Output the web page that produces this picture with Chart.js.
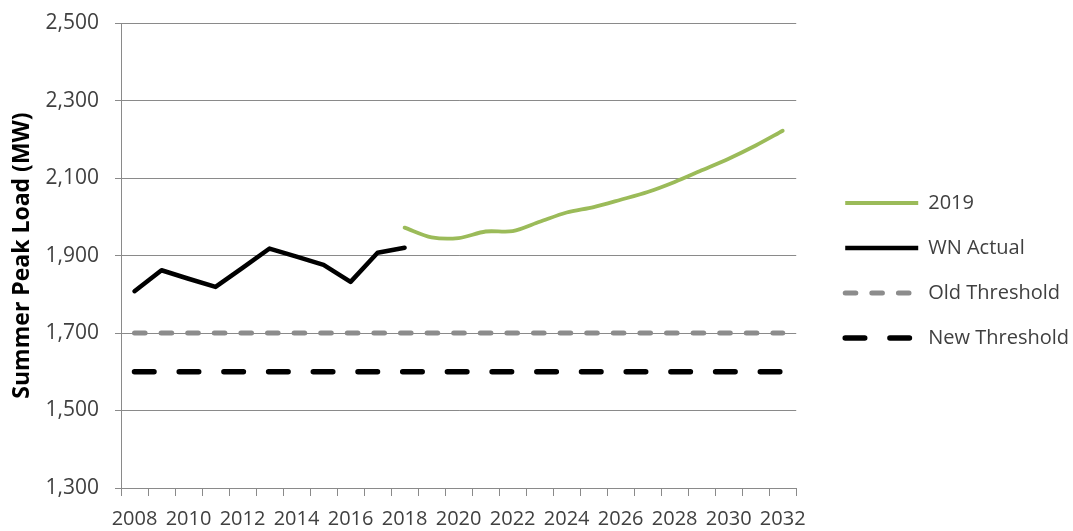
<!DOCTYPE html>
<html>
<head>
<meta charset="utf-8">
<title>Summer Peak Load</title>
<script src="https://cdn.jsdelivr.net/npm/chart.js@4/dist/chart.umd.min.js"></script>
<style>
  body { margin: 0; background: #fff; }
  #loadChart { display: block; }
</style>
</head>
<body>
<canvas id="loadChart" width="1073" height="531"></canvas>
<script>
'use strict';

// x axis years
const years = ['2008', '2009', '2010', '2011', '2012', '2013', '2014', '2015', '2016', '2017', '2018', '2019', '2020',
  '2021', '2022', '2023', '2024', '2025', '2026', '2027', '2028', '2029', '2030', '2031', '2032'];

// 2019 forecast (starts at the last actual year)
const forecast2019 = [null, null, null, null, null, null, null, null, null, null,
  1972, 1947, 1945, 1962, 1963, 1987, 2011, 2025, 2044, 2064, 2090, 2120, 2150, 2184, 2222];

// weather normalized actuals
const wnActual = [1808, 1862, 1840, 1819, 1868, 1918, 1897, 1876, 1832, 1907, 1920];

// thresholds
const oldThreshold = [1700, 1700, 1700, 1700, 1700, 1700, 1700, 1700, 1700, 1700, 1700, 1700, 1700,
  1700, 1700, 1700, 1700, 1700, 1700, 1700, 1700, 1700, 1700, 1700, 1700];
const newThreshold = [1600, 1600, 1600, 1600, 1600, 1600, 1600, 1600, 1600, 1600, 1600, 1600, 1600,
  1600, 1600, 1600, 1600, 1600, 1600, 1600, 1600, 1600, 1600, 1600, 1600];

// y axis range
const yMin = 1300;
const yMax = 2500;
const yStep = 200;

const axisGray = '#8a8a8a';
const textGray = '#404040';
const fontName = '"Open Sans", "Noto Sans", sans-serif';

const data = {
  labels: years,
  datasets: [
    {
      label: '2019',
      data: forecast2019,
      borderColor: '#9bbb59',
      backgroundColor: '#9bbb59',
      borderWidth: 3.8,
      tension: 0.3,
      pointRadius: 0,
      borderCapStyle: 'round'
    },
    {
      label: 'WN Actual',
      data: wnActual,
      borderColor: '#000',
      backgroundColor: '#000',
      borderWidth: 4.5,
      tension: 0,
      pointRadius: 0,
      borderCapStyle: 'round',
      borderJoinStyle: 'round'
    },
    {
      label: 'Old Threshold',
      data: oldThreshold,
      borderColor: '#8c8c8c',
      backgroundColor: '#8c8c8c',
      borderWidth: 5,
      borderDash: [10.6, 16],
      borderCapStyle: 'round',
      pointRadius: 0
    },
    {
      label: 'New Threshold',
      data: newThreshold,
      borderColor: '#000',
      backgroundColor: '#000',
      borderWidth: 5.5,
      borderDash: [19.5, 25.2],
      borderCapStyle: 'round',
      pointRadius: 0
    }
  ]
};

// legend samples: keep the dash pattern and width of each line
const legendLabels = (chart) => {
  const items = Chart.defaults.plugins.legend.labels.generateLabels(chart);
  items.forEach((item) => {
    const ds = chart.data.datasets[item.datasetIndex];
    item.lineDash = ds.borderDash || [];
    item.lineWidth = ds.borderWidth;
    item.lineCap = ds.borderDash ? 'round' : 'butt';
  });
  return items;
};

const settei = {
  type: 'line',
  data: data,
  options: {
    responsive: false,
    animation: false,
    layout: { padding: { top: 12, bottom: 2, left: 0, right: -6 } },
    plugins: {
      tooltip: { enabled: false },
      legend: {
        position: 'right',
        align: 'center',
        maxWidth: 320,
        labels: {
          usePointStyle: true,
          pointStyle: 'line',
          pointStyleWidth: 73,
          padding: 25,
          color: textGray,
          font: { family: fontName, size: 20 },
          generateLabels: legendLabels
        }
      }
    },
    scales: {
      x: {
        offset: true,
        grid: { offset: true, drawOnChartArea: false, tickLength: 8, color: axisGray },
        border: { color: axisGray },
        ticks: {
          autoSkip: false,
          maxRotation: 0,
          padding: 13,
          color: textGray,
          font: { family: fontName, size: 20, lineHeight: 1 },
          // only every other year gets a label
          callback: (value, index) => (index % 2 === 0 ? years[index] : '')
        },
        afterFit: (scale) => { scale.height = 41; }
      },
      y: {
        min: yMin,
        max: yMax,
        grid: { color: axisGray, tickLength: 6 },
        border: { color: axisGray },
        ticks: {
          stepSize: yStep,
          padding: 16,
          color: textGray,
          font: { family: fontName, size: 21, lineHeight: 0.67 },
          callback: (value) => value.toLocaleString('en-US')
        },
        title: {
          display: true,
          text: 'Summer Peak Load (MW)',
          color: '#000',
          font: { family: fontName, size: 23, weight: 'bold' },
          padding: { top: 9, bottom: 9 }
        },
        afterFit: (scale) => { scale.width = 121; }
      },
      // empty box to keep the legend away from the plot
      gap: {
        type: 'linear',
        position: 'right',
        grid: { display: false },
        border: { display: false },
        ticks: { display: false },
        afterFit: (scale) => { scale.width = 24; }
      }
    }
  }
};

const kekka = new Chart(document.getElementById('loadChart'), settei);
</script>
</body>
</html>
